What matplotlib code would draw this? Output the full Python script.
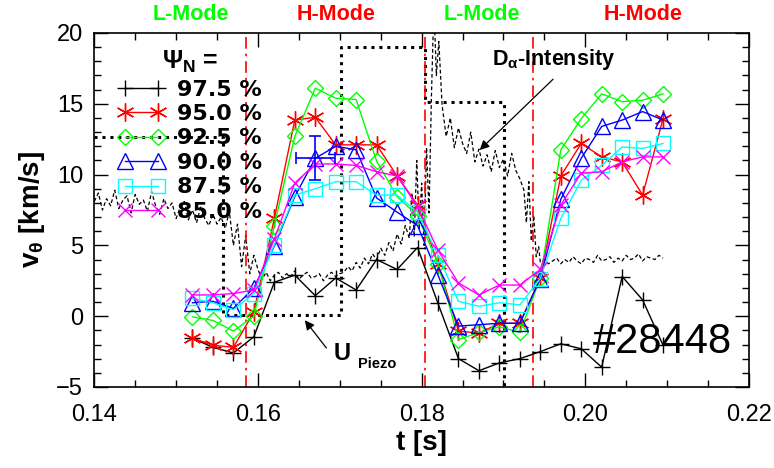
import matplotlib

matplotlib.use("Agg")
import matplotlib.pyplot as plt
from matplotlib.lines import Line2D
from matplotlib.ticker import MultipleLocator

plt.rcParams["font.family"] = ["Liberation Sans", "DejaVu Sans"]
plt.rcParams["mathtext.fontset"] = "custom"
plt.rcParams["mathtext.rm"] = "Liberation Sans:bold"
plt.rcParams["mathtext.it"] = "Liberation Sans:bold"
plt.rcParams["mathtext.bf"] = "Liberation Sans:bold"

# measurement times [s] and v_theta [km/s] per flux surface
t_meas = [0.1520, 0.1545, 0.1570, 0.1595, 0.1620, 0.1645, 0.1670, 0.1695,
          0.1720, 0.1745, 0.1770, 0.1795, 0.1820, 0.1845, 0.1870, 0.1895,
          0.1920, 0.1945, 0.1970, 0.1995, 0.2020, 0.2045, 0.2070, 0.2095]
v_975 = [-1.55, -2.2, -2.6, -1.45, 2.4, 2.9, 1.45, 2.7, 1.85, 4.0, 3.3, 4.85,
         0.9, -3.0, -3.85, -3.3, -3.0, -2.5, -1.95, -2.3, -3.6, 2.8, 1.15, -2.05]
v_950 = [-1.55, -2.05, -2.2, 0.3, 6.9, 13.85, 14.05, 12.1, 12.1, 12.1, 9.9, 7.85,
         3.7, -1.05, -1.2, -0.5, -0.5, 2.7, 9.9, 12.2, 11.25, 10.9, 8.55, 13.95]
v_925 = [-0.05, -0.3, -1.05, 0.0, 6.4, 12.7, 16.1, 15.4, 15.3, 10.95, 8.45, 7.1,
         3.7, -1.65, -1.15, -0.75, -1.15, 2.7, 11.75, 13.95, 15.7, 15.15, 15.25, 15.7]
v_900 = [0.95, 1.05, 0.55, 2.0, 4.95, 8.45, 11.15, 12.0, 11.75, 8.35, 7.35, 6.4,
         2.9, -0.7, -0.6, -0.5, -0.5, 2.65, 8.25, 11.15, 13.4, 13.85, 14.45, 13.85]
v_875 = [1.25, 0.95, 0.45, 1.6, 5.05, 8.55, 9.0, 9.5, 9.5, 8.55, 8.55, 7.35,
         4.3, 1.05, 0.7, 0.95, 0.8, 2.65, 6.9, 9.6, 10.65, 11.95, 11.85, 12.2]
v_850 = [1.5, 1.5, 1.6, 1.85, 5.45, 9.4, 10.75, 10.75, 10.65, 10.2, 9.9, 7.75,
         4.65, 2.35, 1.5, 2.2, 2.2, 3.3, 7.85, 10.1, 10.2, 10.9, 11.25, 11.25]

# one error bar on the 90.0 % series
err_t = 0.1670
err_v = 11.15
err_x = 0.0024
err_y = 1.55

labels = ["97.5 %", "95.0 %", "92.5 %", "90.0 %", "87.5 %", "85.0 %"]

# L-H / H-L transition times [s]
t_trans = [0.1585, 0.1804, 0.1936]

# piezo valve voltage (arb. units)
piezo_t = [0.1400, 0.1557, 0.1557, 0.1702, 0.1702, 0.1804, 0.1804, 0.1901, 0.1901, 0.2120]
piezo_v = [12.65, 12.65, 0.08, 0.08, 19.0, 19.0, 15.13, 15.13, -6.0, -6.0]

# D-alpha intensity (arb. units), time in ms
dalpha_t_ms = [
    140.0, 140.5, 141.0, 141.5, 142.0, 142.5, 143.0, 143.5, 144.0, 144.5, 145.0,
    145.5, 146.0, 146.5, 147.0, 147.5, 148.0, 148.5, 149.0, 149.5, 150.0, 150.5,
    151.0, 151.5, 152.0, 152.5, 153.0, 153.5, 154.0, 154.5, 155.0, 155.5,
    156.0, 156.5, 157.0, 157.5, 158.0, 158.5, 159.0, 159.5,
    160.0, 160.5, 161.0, 161.5, 162.0, 162.5, 163.0, 163.5, 164.0, 164.5, 165.0,
    165.5, 166.0, 166.5, 167.0, 167.5, 168.0, 168.5, 169.0, 169.5, 170.0,
    170.5, 171.0, 171.5, 172.0, 172.5, 173.0, 173.5, 174.0, 174.5, 175.0, 175.5,
    176.0, 176.5, 177.0, 177.5, 178.0, 178.5,
    178.8, 179.1, 179.4, 179.7, 180.0, 180.3, 180.6, 180.9, 181.2, 181.5, 181.8, 182.1,
    182.5, 183.0, 183.5, 184.0, 184.5, 185.0, 185.5, 186.0, 186.5, 187.0, 187.5,
    188.0, 188.5, 189.0, 189.5, 190.0, 190.5, 191.0, 191.5, 192.0, 192.5,
    192.8, 193.1, 193.4, 193.7, 194.0, 194.3,
    194.5, 195.0, 195.5, 196.0, 196.5, 197.0, 197.5, 198.0, 198.5, 199.0, 199.5,
    200.0, 200.5, 201.0, 201.5, 202.0, 202.5, 203.0, 203.5, 204.0, 204.5, 205.0,
    205.5, 206.0, 206.5, 207.0, 207.5, 208.0, 208.5, 209.0, 209.5,
]
dalpha_v = [
    8.1, 8.7, 7.5, 8.3, 7.8, 8.9, 7.6, 8.2, 8.5, 7.3, 8.6,
    7.9, 8.2, 7.4, 8.8, 7.8, 7.2, 8.3, 7.6, 8.0, 6.9, 7.7,
    8.1, 6.8, 7.5, 6.6, 7.7, 6.9, 6.4, 7.2, 6.5, 7.0,
    6.2, 7.4, 5.0, 6.5, 3.5, 5.7, 3.0, 4.3,
    3.3, 2.6, 3.1, 2.5, 2.9, 3.1, 2.7, 3.0, 2.8, 3.2, 2.6,
    2.9, 3.1, 2.7, 2.8, 3.0, 2.5, 2.9, 3.1, 2.8, 3.0,
    3.1, 3.5, 3.2, 3.8, 3.4, 4.1, 3.7, 4.4, 4.0, 4.8, 4.3,
    5.2, 4.6, 5.8, 5.1, 6.4, 5.5,
    8.7, 5.6, 11.0, 6.2, 9.4, 5.0, 11.9, 7.3, 15.6, 22.0, 17.0, 19.4,
    14.9, 12.7, 14.0, 11.9, 13.3, 12.2, 11.5, 13.0, 10.9, 11.8, 10.6,
    11.4, 10.2, 11.7, 10.5, 11.1, 9.9, 11.5, 10.3, 9.7, 8.9,
    6.6, 9.5, 5.3, 7.1, 4.2, 4.9,
    3.8, 4.0, 3.7, 3.9, 4.1, 3.7, 4.0, 3.8, 4.2, 3.9, 3.7,
    4.1, 4.0, 3.8, 4.3, 3.9, 4.0, 4.2, 3.8, 4.1, 3.9, 4.3,
    4.0, 4.1, 4.4, 3.9, 4.2, 4.1, 4.0, 4.3, 4.1,
]

styles = [
    dict(color="black", marker="+", ms=12, mew=1.0),
    dict(color="red", marker=(6, 2, 0), ms=13, mew=1.0),
    dict(color="#00ff00", marker="D", ms=8, mfc="none", mew=1.0),
    dict(color="blue", marker="^", ms=11, mfc="none", mew=1.0),
    dict(color="#00ffff", marker="s", ms=10, mfc="none", mew=1.0),
    dict(color="#ff00ff", marker="x", ms=10, mew=1.0),
]
series = [v_975, v_950, v_925, v_900, v_875, v_850]

fig = plt.figure(figsize=(7.74, 4.68), dpi=100)
ax = fig.add_axes([0.1218, 0.1731, 0.8459, 0.7564])

ax.plot([t / 1000 for t in dalpha_t_ms], dalpha_v, color="black", lw=0.9,
        ls=(0, (3, 2)))
ax.plot(piezo_t, piezo_v, color="black", lw=2.2, ls=(0, (1, 1.6)))
for tt in t_trans:
    ax.axvline(tt, color="red", lw=1.2, ls=(0, (7, 3, 1.5, 3)))

handles = []
for vals, st in zip(series, styles):
    ax.plot(t_meas, vals, lw=1.0, **st)
    handles.append(Line2D([], [], lw=1.0, **st))
ax.errorbar(err_t, err_v, xerr=err_x, yerr=err_y, color="blue", lw=1.2,
            capsize=4, capthick=1.2, fmt="none")

ax.set_xlim(0.14, 0.22)
ax.set_ylim(-5, 20)
ax.xaxis.set_minor_locator(MultipleLocator(0.005))
ax.yaxis.set_major_locator(MultipleLocator(5))
ax.yaxis.set_minor_locator(MultipleLocator(1))
ax.set_xticks([0.14, 0.16, 0.18, 0.20, 0.22])
ax.set_xticklabels(["0.14", "0.16", "0.18", "0.20", "0.22"])
ax.tick_params(which="both", direction="in", top=True, right=True, width=1.0,
               labelsize=17)
ax.tick_params(which="major", length=10)
ax.tick_params(which="minor", length=5)
ax.tick_params(axis="x", pad=12)
ax.tick_params(axis="y", pad=8)
for sp in ax.spines.values():
    sp.set_linewidth(1.2)

ax.set_xlabel("t [s]", fontsize=20, fontweight="bold", labelpad=3)
ax.set_ylabel(r"v$_\theta$ [km/s]", fontsize=20, fontweight="bold", labelpad=7)

leg = ax.legend(handles, labels, loc="upper left", bbox_to_anchor=(0.036, 0.955),
                frameon=False, numpoints=2, handlelength=2.1, handletextpad=0.55,
                labelspacing=0.2, borderpad=0, borderaxespad=0,
                prop=dict(family="DejaVu Sans", size=16, weight="bold"),
                title=r"$\Psi_N$ =",
                title_fontproperties=dict(size=18, weight="bold"))

# annotations
ax.text(0.1886, 18.1, r"D$_\alpha$-Intensity", fontsize=15.5, fontweight="bold",
        va="center", ha="left")
ax.annotate("", xy=(0.18685, 11.6), xytext=(0.1963, 16.87),
            arrowprops=dict(arrowstyle="-|>", color="black", lw=0.9,
                            mutation_scale=14))
ax.text(0.1703, -2.6, "U", fontsize=17, fontweight="bold", ha="center", va="center")
ax.text(0.17454, -3.4, "Piezo", fontsize=10.5, fontweight="bold", ha="center",
        va="center")
ax.annotate("", xy=(0.16552, -0.13), xytext=(0.16857, -2.4),
            arrowprops=dict(arrowstyle="-|>", color="black", lw=0.9,
                            mutation_scale=14))
ax.text(0.20944, -1.83, "#28448", fontsize=30, ha="center", va="center")

# plasma regime labels above the frame
for x_px, txt, col in [(191, "L-Mode", "#00ff00"), (336, "H-Mode", "#ff0000"),
                       (482, "L-Mode", "#00ff00"), (643, "H-Mode", "#ff0000")]:
    fig.text(x_px / 774, 1 - 15 / 468, txt, color=col, fontsize=15.5,
             fontweight="bold", ha="center", va="center")

fig.savefig("out.png", dpi=100)
